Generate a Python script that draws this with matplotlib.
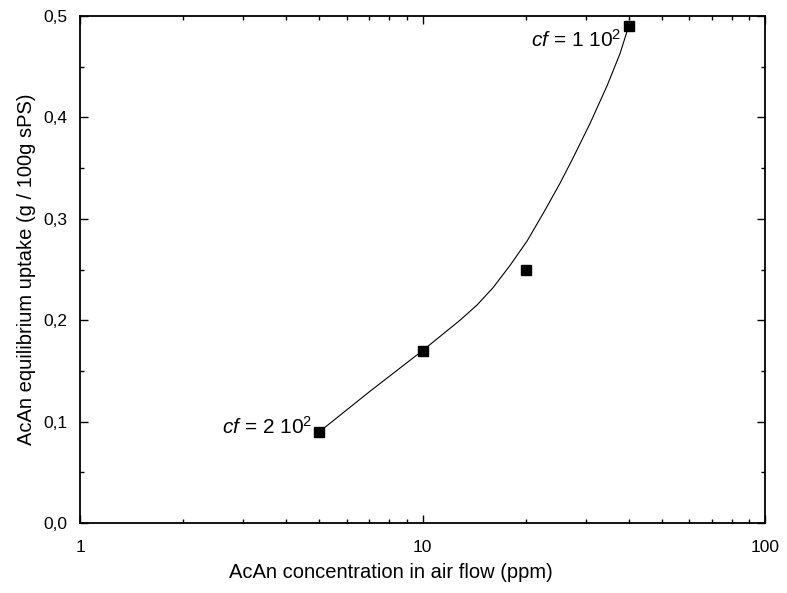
import matplotlib
matplotlib.use('Agg')
import matplotlib.pyplot as plt
from matplotlib.ticker import FuncFormatter, MultipleLocator, LogLocator, NullFormatter

plt.rcParams['font.family'] = ['Liberation Sans', 'DejaVu Sans']
plt.rcParams['mathtext.fontset'] = 'custom'
plt.rcParams['mathtext.rm'] = 'Liberation Sans'
plt.rcParams['mathtext.it'] = 'Liberation Sans:italic'

# measured uptake
conc = [5, 10, 20, 40]
uptake = [0.09, 0.17, 0.25, 0.49]

# fitted curve
curve_x = [5, 7.03, 10, 11.25, 12.87, 14.43, 16.06, 18.01, 20.19, 22.48, 25.2, 27.51, 30.84, 34.57, 37.74, 40]
curve_y = [0.09, 0.130, 0.17, 0.184, 0.200, 0.215, 0.232, 0.254, 0.278, 0.305, 0.335, 0.360, 0.394, 0.431, 0.463, 0.49]

fig = plt.figure(figsize=(7.87, 5.93), dpi=100)
ax = fig.add_axes([0.1017, 0.118, 0.8703, 0.855])

ax.plot(curve_x, curve_y, color='black', lw=0.8)
ax.plot(conc, uptake, 's', color='black', markersize=7)

ax.set_xscale('log')
ax.set_xlim(1, 100)
ax.set_ylim(0, 0.5)

ax.xaxis.set_major_locator(LogLocator(base=10))
ax.xaxis.set_minor_locator(LogLocator(base=10, subs=range(2, 10)))
ax.xaxis.set_minor_formatter(NullFormatter())
ax.xaxis.set_major_formatter(FuncFormatter(lambda v, p: '%d' % v))
ax.yaxis.set_major_locator(MultipleLocator(0.1))
ax.yaxis.set_minor_locator(MultipleLocator(0.05))
ax.yaxis.set_major_formatter(FuncFormatter(lambda v, p: ('%.1f' % v).replace('.', ',')))

ax.tick_params(which='both', direction='in', top=True, right=True, labelsize=12.5, width=1)
ax.tick_params(which='major', length=6)
ax.tick_params(axis='x', which='major', pad=12)
ax.tick_params(axis='y', which='major', pad=9)
ax.tick_params(which='minor', length=3)
for s in ax.spines.values():
    s.set_linewidth(1.3)

ax.annotate(r'$cf$ = 2 10$^2$', xy=(5, 0.09), xytext=(-7, -2), textcoords='offset pixels',
            ha='right', va='baseline', fontsize=15)
ax.annotate(r'$cf$ = 1 10$^2$', xy=(40, 0.49), xytext=(-7, -21), textcoords='offset pixels',
            ha='right', va='baseline', fontsize=15)

ax.set_xlabel('AcAn concentration in air flow (ppm)', fontsize=14.5, labelpad=6)
ax.xaxis.label.set_x(0.454)
ax.set_ylabel('AcAn equilibrium uptake (g / 100g sPS)', fontsize=14.5, labelpad=5)

fig.savefig('out.png', dpi=100)
